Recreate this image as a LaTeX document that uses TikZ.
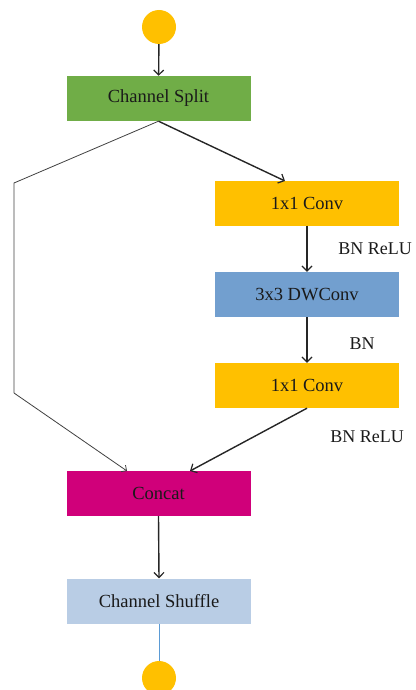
\documentclass[tikz,border=0pt]{standalone}
\usepackage{fontspec}
\setmainfont{Liberation Serif}
\usetikzlibrary{arrows.meta}
\definecolor{cgreen}{HTML}{70AD47}
\definecolor{cyellow}{HTML}{FFC000}
\definecolor{cblue}{HTML}{729FCF}
\definecolor{cmag}{HTML}{D0007A}
\definecolor{clblue}{HTML}{B9CDE5}
\definecolor{cline}{HTML}{5B9BD5}
\definecolor{ctext}{HTML}{1A1A1A}
\begin{document}
\begin{tikzpicture}[x=1pt,y=-1pt,
  box/.style={fill=#1, minimum width=184pt, minimum height=45pt, inner sep=0pt, text=ctext,
    font=\fontsize{18.5}{22}\selectfont},
  dot/.style={circle, fill=cyellow, minimum size=34pt, inner sep=0pt},
  arr/.style={draw=black!85, line width=1.4pt, -{Straight Barb[length=5pt,width=10pt,line width=1.2pt]}},
  thin/.style={draw=black!75, line width=0.8pt},
  lbl/.style={font=\fontsize{18}{21}\selectfont, text=ctext}]
\useasboundingbox (0,0) rectangle (415,690);
\node[dot] (in) at (159,27) {};
\node[box=cgreen] (split) at (158.5,98.5) {Channel Split};
\node[box=cyellow] (c1) at (307,203) {1x1 Conv};
\node[box=cblue] (dw) at (307,294.5) {3x3 DWConv};
\node[box=cyellow] (c2) at (307,385.5) {1x1 Conv};
\node[box=cmag] (cat) at (158.5,493.5) {Concat};
\node[box=clblue] (shuf) at (159,601) {Channel Shuffle};
\node[dot] (out) at (159,678) {};
\coordinate (l1) at (14,183);
\coordinate (l2) at (14,393);
\coordinate (catl) at (127,471);
\coordinate (catr) at (190,471);
\coordinate (c1t) at (285,181);
\draw[arr] (in) -- (split);
\draw[arr] (split.south) -- (c1t);
\draw[thin] (split.south) -- (l1) -- (l2);
\draw[thin, -{Straight Barb[length=4pt,width=8pt,line width=0.8pt]}] (l2) -- (catl);
\draw[arr] (c1) -- (dw);
\draw[arr] (dw) -- (c2);
\draw[arr] (c2.south) -- (catr);
\draw[arr] (cat.south) -- (shuf.north);
\draw[draw=cline, line width=1pt] (shuf.south) -- (out.north);
\node[lbl] (t1) at (375,249) {BN ReLU};
\node[lbl] (t2) at (362,344) {BN};
\node[lbl] (t3) at (367,437) {BN ReLU};
\end{tikzpicture}
\end{document}
